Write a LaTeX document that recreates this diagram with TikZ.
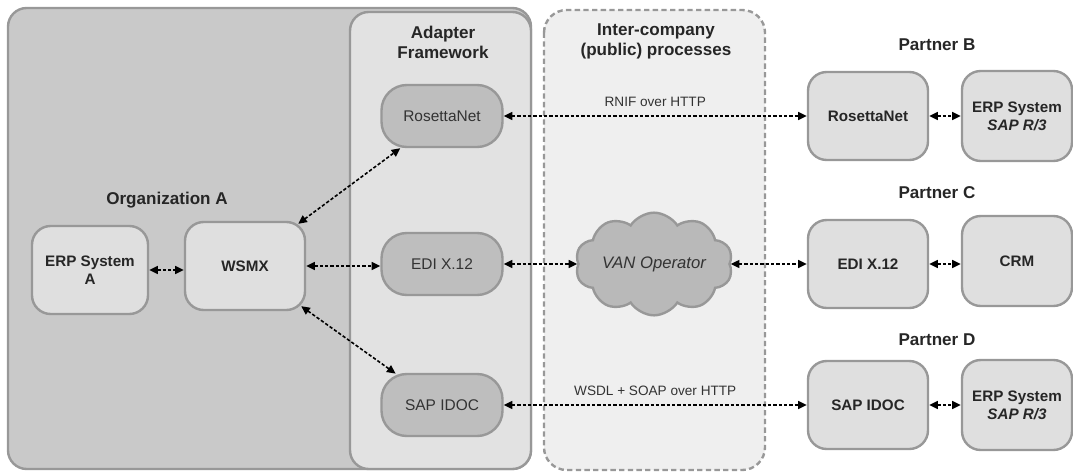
\documentclass[tikz,border=0pt]{standalone}
\usepackage{fontspec}
\setmainfont{Liberation Sans}
\usetikzlibrary{arrows.meta,shapes.symbols}
\definecolor{bordergray}{HTML}{989898}
\definecolor{orgfill}{HTML}{C9C9C9}
\definecolor{adfill}{HTML}{E2E2E2}
\definecolor{interfill}{HTML}{EFEFEF}
\definecolor{lightnode}{HTML}{DFDFDF}
\definecolor{darknode}{HTML}{BEBEBE}
\definecolor{cloudfill}{HTML}{B9B9B9}
\tikzset{
  titletext/.style={font=\fontsize{12.8}{15}\selectfont\bfseries, align=center, text=black!85},
  lightbox/.style={draw=bordergray, line width=1.8pt, fill=lightnode, rounded corners=14pt,
     font=\fontsize{11.4}{13.5}\selectfont\bfseries, align=center, text=black!85},
  adapterbox/.style={draw=bordergray, line width=1.8pt, fill=darknode, rounded corners=19pt,
     minimum width=90.75pt, minimum height=46.5pt, font=\fontsize{11.6}{13.5}\selectfont, text=black!80},
  pleft/.style={lightbox, minimum width=90pt, minimum height=66pt},
  pright/.style={lightbox, minimum width=82.5pt, minimum height=67.5pt},
  conn/.style={line width=1.2pt, dash pattern=on 2.5pt off 1.5pt, {Triangle[length=6.5pt,width=6pt]}-{Triangle[length=6.5pt,width=6pt]}},
  edgelabel/.style={font=\fontsize{10.2}{12}\selectfont, text=black!80}
}
\begin{document}
\begin{tikzpicture}[x=0.75pt,y=-0.75pt]
\useasboundingbox (0,0) rectangle (1073,474);
% containers
\draw[draw=bordergray, line width=1.8pt, fill=orgfill, rounded corners=14pt] (8,8) rectangle (531,469);
\draw[draw=bordergray, line width=1.8pt, fill=adfill, rounded corners=14pt] (350,12) rectangle (531,469);
\draw[draw=bordergray, line width=1.8pt, fill=interfill, rounded corners=17pt, dash pattern=on 4pt off 2.5pt] (544,10) rectangle (765,470);
% titles
\node[titletext] (torg) at (167,200) {Organization A};
\node[titletext] (tad) at (443,42) {Adapter\\Framework};
\node[titletext] (tint) at (656,41) {Inter-company\\(public) processes};
\node[titletext] (tpb) at (937,45) {Partner B};
\node[titletext] (tpc) at (937,193) {Partner C};
\node[titletext] (tpd) at (937,340) {Partner D};
% organization A
\node[lightbox, minimum width=87pt, minimum height=66pt] (erpa) at (90,270) {ERP System\\A};
\node[lightbox, minimum width=90pt, minimum height=66pt] (wsmx) at (245,266) {WSMX};
% adapters
\node[adapterbox] (ros) at (442,116) {RosettaNet};
\node[adapterbox] (edi) at (442,264) {EDI X.12};
\node[adapterbox] (sap) at (442,405) {SAP IDOC};
% cloud
\node[cloud, cloud puffs=10, cloud puff arc=115, cloud ignores aspect, draw=bordergray, line width=1.8pt,
  fill=cloudfill, minimum width=118pt, minimum height=77pt, inner sep=0pt,
  font=\fontsize{12.5}{14}\selectfont\itshape, text=black!80] (van) at (654,264) {VAN Operator};
% partners
\node[pleft] (rosb) at (868,116) {RosettaNet};
\node[pright] (erpb) at (1017,116) {ERP System\\\textit{SAP R/3}};
\node[pleft] (edib) at (868,264) {EDI X.12};
\node[pright] (crm) at (1017,261) {CRM};
\node[pleft] (sapb) at (868,405) {SAP IDOC};
\node[pright] (erpd) at (1017,405) {ERP System\\\textit{SAP R/3}};
% connectors
\draw[conn] (erpa.east) -- (wsmx.west |- erpa.east);
\draw[conn] (wsmx.east) -- (edi.west |- wsmx.east);
\draw[conn] ([xshift=-6pt,yshift=-2.25pt]wsmx.north east) -- ([xshift=15pt]ros.south west);
\draw[conn] ([xshift=-3.75pt,yshift=3.75pt]wsmx.south east) -- ([xshift=11.5pt,yshift=-0.6pt]sap.north west);
\draw[conn] (ros.east) -- node[edgelabel, above=3pt] (lrnif) {RNIF over HTTP} (rosb.west);
\draw[conn] (edi.east) -- (van.west |- edi.east);
\draw[conn] (van.east) -- (edib.west |- van.east);
\draw[conn] (sap.east) -- node[edgelabel, above=3pt] (lwsdl) {WSDL + SOAP over HTTP} (sapb.west);
\draw[conn] (rosb.east) -- (erpb.west |- rosb.east);
\draw[conn] (edib.east) -- (crm.west |- edib.east);
\draw[conn] (sapb.east) -- (erpd.west |- sapb.east);
\end{tikzpicture}
\end{document}
